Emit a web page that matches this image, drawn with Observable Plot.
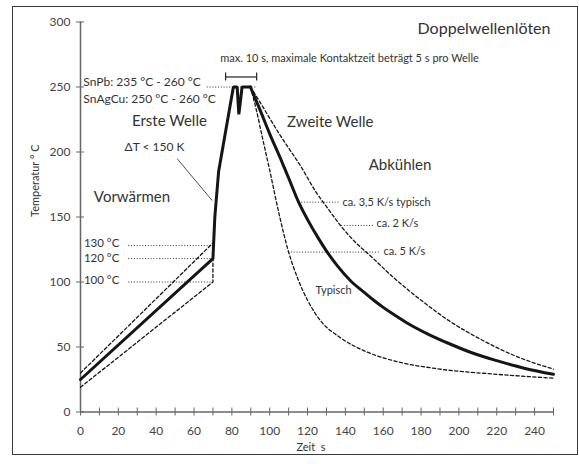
<!DOCTYPE html>
<html><head><meta charset="utf-8">
<script src="https://cdn.jsdelivr.net/npm/d3@7"></script>
<script src="https://cdn.jsdelivr.net/npm/@observablehq/plot@0.6"></script>
<style>
body{margin:0;background:#fff;}
#wrap{position:relative;width:579px;height:464px;font-family:Lato,sans-serif;}
#border{position:absolute;left:12px;top:6px;width:566px;height:449px;border:1.5px solid #3a3a3a;box-sizing:border-box;pointer-events:none;}
#chart{position:absolute;left:0;top:0;}
</style></head>
<body><div id="wrap"><div id="chart"></div><div id="border"></div></div>
<script>
// Tick values
const xTicksMinor = [0,10,20,30,40,50,60,70,80,90,100,110,120,130,140,150,160,170,180,190,200,210,220,230,240,250];
const xTickLabels = [0,20,40,60,80,100,120,140,160,180,200,220,240];
const yTicks = [0,50,100,150,200,250,300];

// Main profile (solid): time s, temperature °C
const solidRiseT = [0, 70, 71, 73, 80.8, 82.8, 83.7, 85.4, 89.8];
const solidRiseV = [25, 118, 150, 185, 250, 250, 229, 250, 250];
const solidFallT = [89.8, 95, 100, 105.7, 110, 115.4, 120, 126, 130.4, 136, 142.7, 150, 155, 160, 165, 172.6, 185, 195, 207.9, 220, 235, 250];
const solidFallV = [250, 232, 214, 195, 180, 161, 148, 133, 123, 112, 101, 92, 86, 80.5, 75.5, 68.5, 59, 52.5, 45, 39.5, 33.5, 29];

// Dashed limits
const preUpperT = [0, 70];
const preUpperV = [30, 130];
const preLowerT = [0, 70, 70];
const preLowerV = [19, 100, 118];
const coolSlowT = [89.8, 95, 100, 105, 110, 116, 125, 130, 137.4, 145, 153.3, 165, 180, 195, 211.4, 230, 250];
const coolSlowV = [250, 238, 226, 214, 203, 190, 168, 158, 143.5, 131, 120, 104, 86, 70, 56, 43, 33];
const coolFastT = [89.8, 93, 96, 100, 105, 110, 115, 120, 127, 137, 150, 164, 190, 220, 250];
const coolFastV = [250, 232, 212, 186, 152, 123, 102, 86, 70, 57.5, 47, 40, 33, 29, 26];

// Dotted reference lines
const refLevels = [250, 128, 118, 100, 161.4, 143.5, 123];
const refStart  = [67, 25.5, 25.5, 25.5, 115.4, 138, 110];
const refEnd    = [93.5, 68.7, 69.6, 69.6, 137.5, 155.4, 158.6];

// Annotations
const bigLabels = ["Erste Welle", "Zweite Welle", "Abkühlen", "Vorwärmen"];
const bigT = [47, 132, 168.9, 27.2];
const bigV = [223.5, 222.9, 189.6, 165.4];
const leftLabels = ["SnPb: 235 °C - 260 °C", "SnAgCu: 250 °C - 260 °C"];
const leftT = [1.5, 1.5];
const leftV = [253.8, 241];
const levelLabels = ["130 °C", "120 °C", "100 °C"];
const levelT = [1.8, 1.8, 1.8];
const levelV = [129.8, 118.6, 101];
const rateLabels = ["ca. 3,5 K/s typisch", "ca. 2 K/s", "ca. 5 K/s", "Typisch"];
const rateT = [138.5, 156.4, 160.1, 124.2];
const rateV = [161.4, 145, 123.5, 93.5];
const deltaLabel = "ΔT < 150 K";
const deltaPos = [39.1, 204];
const leaderFrom = [51.1, 194.8];
const leaderTo = [69.6, 162.7];
const contactLabel = "max. 10 s, maximale Kontaktzeit beträgt 5 s pro Welle";
const contactPos = [142.2, 272.3];
const bracketT = [76.7, 93.1];
const bracketV = 257.7;
const titleText = "Doppelwellenlöten";
const titlePos = [248.4, 295];

const zip = (ts, vs, s) => ts.map((t, i) => ({t, v: vs[i], s}));
const solidRise = zip(solidRiseT, solidRiseV);
const solidFall = zip(solidFallT, solidFallV);
const dashedLinear = [...zip(preUpperT, preUpperV, "pu"), ...zip(preLowerT, preLowerV, "pl")];
const dashedCurves = [...zip(coolSlowT, coolSlowV, "slow"), ...zip(coolFastT, coolFastV, "fast")];
const refs = refLevels.map((v, i) => ({v, t1: refStart[i], t2: refEnd[i]}));
const big = bigLabels.map((text, i) => ({text, t: bigT[i], v: bigV[i]}));
const left = leftLabels.map((text, i) => ({text, t: leftT[i], v: leftV[i]}));
const levels = levelLabels.map((text, i) => ({text, t: levelT[i], v: levelV[i]}));
const rates = rateLabels.map((text, i) => ({text, t: rateT[i], v: rateV[i]}));

const ink = "#151515";
const dash = "3.2,2.4";

const chart = Plot.plot({
  width: 579, height: 464,
  marginLeft: 80, marginRight: 26, marginTop: 21.5, marginBottom: 52.5,
  x: {domain: [0, 250]},
  y: {domain: [0, 300]},
  style: {fontFamily: "Lato, sans-serif", fontSize: "12px", color: "#333", background: "transparent"},
  marks: [
    Plot.ruleX([0], {y1: 0, y2: 300, stroke: "#666", strokeWidth: 1.5}),
    Plot.ruleY([0], {x1: 0, x2: 250, stroke: "#666", strokeWidth: 1.5}),
    Plot.axisY({ticks: yTicks, tickSize: 8, dx: 4, tickPadding: 6, stroke: "#666", fill: "#444", label: null, fontSize: 12}),
    Plot.axisX({ticks: xTicksMinor, tickSize: 8, dy: -4, tickFormat: () => "", stroke: "#666", label: null}),
    Plot.axisX({ticks: xTickLabels, tickSize: 0, tickPadding: 14, fill: "#444", label: null, fontSize: 12}),
    Plot.text(["Zeit  s"], {frameAnchor: "bottom", dy: 39, dx: -6, fontSize: 11, fill: "#333"}),
    Plot.text(["Temperatur ° C"], {frameAnchor: "left", dx: -45, rotate: -90, fontSize: 11, fill: "#333"}),
    // dotted reference lines
    Plot.ruleY(refs, {y: "v", x1: "t1", x2: "t2", stroke: "#333", strokeWidth: 1, strokeDasharray: "1,1.8"}),
    // bracket
    Plot.ruleY([bracketV], {x1: bracketT[0], x2: bracketT[1], stroke: "#222", strokeWidth: 1.2}),
    Plot.ruleX(bracketT, {y1: bracketV - 3, y2: bracketV + 3, stroke: "#222", strokeWidth: 1.2}),
    // leader line
    Plot.link([0], {x1: () => leaderFrom[0], y1: () => leaderFrom[1], x2: () => leaderTo[0], y2: () => leaderTo[1], stroke: "#222", strokeWidth: 0.8}),
    // dashed limits
    Plot.line(dashedLinear, {x: "t", y: "v", z: "s", stroke: ink, strokeWidth: 1.3, strokeDasharray: dash}),
    Plot.line(dashedCurves, {x: "t", y: "v", z: "s", stroke: ink, strokeWidth: 1.3, strokeDasharray: dash, curve: "monotone-x"}),
    // solid profile
    Plot.line(solidRise, {x: "t", y: "v", stroke: ink, strokeWidth: 3, strokeLinejoin: "miter"}),
    Plot.line(solidFall, {x: "t", y: "v", stroke: ink, strokeWidth: 3, curve: "monotone-x"}),
    // texts
    Plot.text(big, {x: "t", y: "v", text: "text", fontSize: 15, fill: "#333"}),
    Plot.text(left, {x: "t", y: "v", text: "text", textAnchor: "start", fontSize: 12, fill: "#333"}),
    Plot.text(levels, {x: "t", y: "v", text: "text", textAnchor: "start", fontSize: 11.5, fill: "#333"}),
    Plot.text(rates, {x: "t", y: "v", text: "text", textAnchor: "start", fontSize: 11, fill: "#333"}),
    Plot.text([deltaLabel], {x: () => deltaPos[0], y: () => deltaPos[1], text: d => d, fontSize: 12, fill: "#333"}),
    Plot.text([contactLabel], {x: () => contactPos[0], y: () => contactPos[1], text: d => d, fontSize: 11, fill: "#333"}),
    Plot.text([titleText], {x: () => titlePos[0], y: () => titlePos[1], text: d => d, textAnchor: "end", fontSize: 16, fill: "#333"})
  ]
});
document.getElementById("chart").appendChild(chart);
</script>
</body></html>
